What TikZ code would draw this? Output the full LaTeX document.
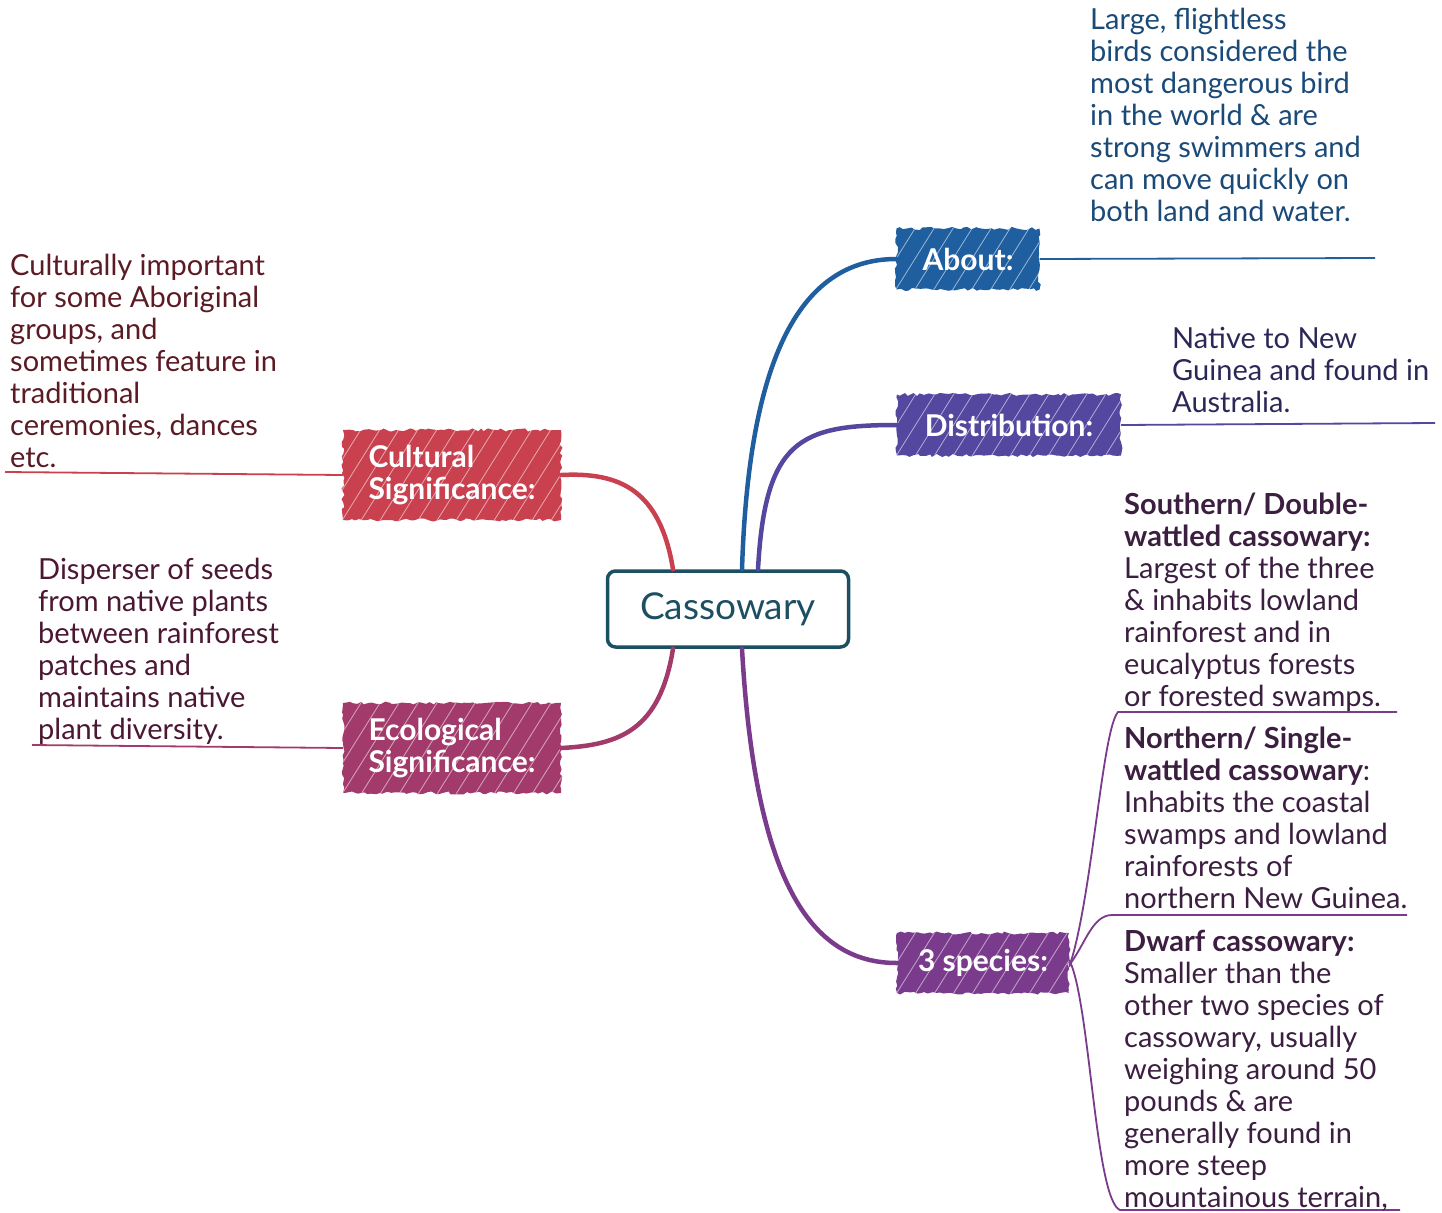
\documentclass[tikz,border=0pt]{standalone}
\usepackage{fontspec}
\setmainfont{Lato}
\usepackage{xcolor}
\usetikzlibrary{decorations.pathmorphing}

\definecolor{aboutC}{HTML}{1F5F9F}
\definecolor{distC}{HTML}{5447A0}
\definecolor{specC}{HTML}{7A3B8C}
\definecolor{cultC}{HTML}{C9404F}
\definecolor{ecoC}{HTML}{A23B6B}
\definecolor{rootC}{HTML}{1D4F63}
\definecolor{aboutT}{HTML}{1A4A78}
\definecolor{distT}{HTML}{2B2858}
\definecolor{specT}{HTML}{3B1E40}
\definecolor{cultT}{HTML}{5B1A24}
\definecolor{ecoT}{HTML}{4B1733}

\tikzset{
  topic/.style={fill=#1, text=white, font=\fontsize{30}{32}\selectfont\bfseries,
    inner sep=0pt, align=left,
    decorate, decoration={random steps, segment length=4pt, amplitude=1.6pt},
    path picture={
      \foreach \k in {-8,...,16}
        \draw [white!55!#1, line width=0.8pt]
          ([xshift=\k*19pt]path picture bounding box.south west) -- ++(58:130pt);
    }},
  leaf/.style={anchor=north west, inner sep=0pt, align=left, text=#1,
    font=\fontsize{29}{32}\selectfont},
  branch/.style={draw=#1, line width=4.5pt, line cap=round},
  twig/.style={draw=#1, line width=1.8pt},
}

\begin{document}
\begin{tikzpicture}[x=1pt,y=-1pt]
\useasboundingbox (0,0) rectangle (1442,1212);

% Root node
\node (cas) at (728,609) [draw=rootC, line width=3.5pt, rounded corners=8pt, minimum width=241pt, minimum height=76pt, text=rootC, font=\fontsize{37}{40}\selectfont] {Cassowary};

% Topic nodes
\node (about) at (968,259) [topic=aboutC, minimum width=143pt, minimum height=61pt] {About:};
\node (dist) at (1009,425) [topic=distC, minimum width=224pt, minimum height=61pt] {Distribution:};
\node (spec) at (983,963) [topic=specC, minimum width=172pt, minimum height=60pt] {3 species:};
\node (cult) at (452,475) [topic=cultC, minimum width=218pt, minimum height=90pt] {Cultural\\Significance:};
\node (eco) at (452,748) [topic=ecoC, minimum width=218pt, minimum height=90pt] {Ecological\\Significance:};

% Branches
\draw [branch=aboutC] ([xshift=14pt]cas.north) .. controls (748,380) and (790,259) .. (about.west);
\draw [branch=distC] ([xshift=30pt]cas.north) .. controls (765,440) and (800,425) .. (dist.west);
\draw [branch=specC] ([xshift=14pt]cas.south) .. controls (755,880) and (810,963) .. (spec.west);
\draw [branch=cultC] ([xshift=-55pt]cas.north) .. controls (660,490) and (620,472) .. (cult.east);
\draw [branch=ecoC] ([xshift=-55pt]cas.south) .. controls (660,730) and (620,745) .. (eco.east);

% Leaf ends
\coordinate (aboutEnd) at (1375,258);
\coordinate (distEnd) at (1435,423);
\coordinate (cultEnd) at (5,472);
\coordinate (ecoEnd) at (32,745);
\coordinate (southA) at (1118,712);
\coordinate (southB) at (1397,712);
\coordinate (northA) at (1112,915);
\coordinate (northB) at (1407,915);
\coordinate (dwarfA) at (1120,1210);
\coordinate (dwarfB) at (1400,1210);

% Leaf lines
\draw [twig=aboutC] (about.east) -- (aboutEnd);
\draw [twig=distC] (dist.east) -- (distEnd);
\draw [twig=cultC] (cult.west) -- (cultEnd);
\draw [twig=ecoC] (eco.west) -- (ecoEnd);
\draw [twig=specC] ([yshift=-4pt]spec.east) .. controls (1092,900) and (1102,730) .. (southA) -- (southB);
\draw [twig=specC] ([yshift=-2pt]spec.east) .. controls (1085,945) and (1092,915) .. (northA) -- (northB);
\draw [twig=specC] ([yshift=3pt]spec.east) .. controls (1090,1000) and (1095,1200) .. (dwarfA) -- (dwarfB);

% Text Node
\node (aboutTxt) at (1090,8) [leaf=aboutT] {Large, flightless\\birds considered the\\most dangerous bird\\in the world \& are\\strong swimmers and\\can move quickly on\\both land and water.};
% Text Node
\node (distTxt) at (1172,327) [leaf=distT] {Native to New\\Guinea and found in\\Australia.};
% Text Node
\node (cultTxt) at (10,254) [leaf=cultT] {Culturally important\\for some Aboriginal\\groups, and\\sometimes feature in\\traditional\\ceremonies, dances\\etc.};
% Text Node
\node (ecoTxt) at (38,558) [leaf=ecoT] {Disperser of seeds\\from native plants\\between rainforest\\patches and\\maintains native\\plant diversity.};
% Text Node
\node (southTxt) at (1124,493) [leaf=specT] {\textbf{Southern/ Double-}\\\textbf{wattled cassowary:}\\Largest of the three\\\& inhabits lowland\\rainforest and in\\eucalyptus forests\\or forested swamps.};
% Text Node
\node (northTxt) at (1124,727) [leaf=specT] {\textbf{Northern/ Single-}\\\textbf{wattled cassowary}:\\Inhabits the coastal\\swamps and lowland\\rainforests of\\northern New Guinea.};
% Text Node
\node (dwarfTxt) at (1124,930) [leaf=specT] {\textbf{Dwarf cassowary:}\\Smaller than the\\other two species of\\cassowary, usually\\weighing around 50\\pounds \& are\\generally found in\\more steep\\mountainous terrain,};

\end{tikzpicture}
\end{document}
